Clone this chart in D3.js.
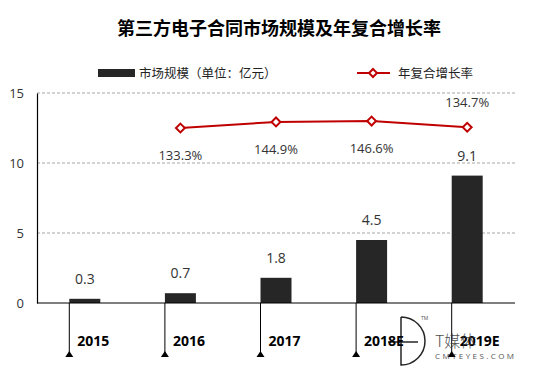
<!DOCTYPE html>
<html>
<head>
<meta charset="utf-8">
<script src="https://cdn.jsdelivr.net/npm/d3@7"></script>
<style>
  body { margin: 0; background: #fff; }
  text { font-family: "Open Sans", "Noto Sans CJK SC", sans-serif; }
</style>
</head>
<body>
<div id="chart"></div>
<script>
var years = ["2015", "2016", "2017", "2018E", "2019E"];
var marketSize = [0.3, 0.7, 1.8, 4.5, 9.1];
var growth = [null, 1.333, 1.449, 1.466, 1.347];
var growthLabels = ["", "133.3%", "144.9%", "146.6%", "134.7%"];
var growthLabelSide = ["", "below", "below", "below", "above"];
var yTicks = [0, 5, 10, 15];

var width = 535, height = 375;
var plotLeft = 37, plotRight = 515, plotTop = 93, plotBottom = 303;

var svg = d3.select("#chart").append("svg")
    .attr("width", width)
    .attr("height", height);

// Title
svg.append("text")
    .attr("x", 279).attr("y", 35)
    .attr("text-anchor", "middle")
    .style("font-family", "'Noto Sans CJK SC', sans-serif")
    .style("font-weight", "bold")
    .style("font-size", "18px")
    .attr("fill", "#000")
    .text("第三方电子合同市场规模及年复合增长率");

// Legend
svg.append("rect")
    .attr("x", 98).attr("y", 69).attr("width", 37).attr("height", 8)
    .attr("fill", "#262626");
svg.append("text")
    .attr("x", 139).attr("y", 78)
    .style("font-family", "'Noto Sans CJK SC', sans-serif")
    .style("font-size", "12.5px")
    .attr("fill", "#222")
    .text("市场规模（单位：亿元）");
svg.append("line")
    .attr("x1", 357).attr("x2", 390).attr("y1", 73).attr("y2", 73)
    .attr("stroke", "#c00000").attr("stroke-width", 2);
svg.append("path")
    .attr("d", d3.symbol().type(d3.symbolDiamond2).size(40)())
    .attr("transform", "translate(373,73)")
    .attr("fill", "#fff").attr("stroke", "#c00000").attr("stroke-width", 2);
svg.append("text")
    .attr("x", 398).attr("y", 78)
    .style("font-family", "'Noto Sans CJK SC', sans-serif")
    .style("font-size", "12.5px")
    .attr("fill", "#222")
    .text("年复合增长率");

// Scales
var x = d3.scaleBand().domain(years).range([plotLeft, plotRight]);
var y = d3.scaleLinear().domain([0, 15]).range([plotBottom, plotTop]);
var y2 = d3.scaleLinear().domain([-2, 2]).range([plotBottom, plotTop]);
var barW = 31;

// Gridlines
svg.append("g")
    .selectAll("line")
    .data(yTicks.filter(function (d) { return d > 0; }))
    .enter()
    .append("line")
    .attr("x1", plotLeft).attr("x2", plotRight)
    .attr("y1", function (d) { return y(d); })
    .attr("y2", function (d) { return y(d); })
    .attr("stroke", "#a6a6a6")
    .attr("stroke-dasharray", "3,2")
    .attr("stroke-width", 1);

// Y axis
var yAxis = svg.append("g")
    .attr("transform", "translate(" + plotLeft + ",0)")
    .call(d3.axisLeft(y).tickValues(yTicks).tickSize(0).tickPadding(13));
yAxis.select(".domain").attr("stroke", "#000").attr("stroke-width", 1.2);
yAxis.selectAll("text")
    .style("font-family", "'Open Sans', sans-serif")
    .style("font-size", "13px")
    .attr("fill", "#333");

// Bars
svg.append("g")
    .selectAll("rect")
    .data(marketSize)
    .enter()
    .append("rect")
    .attr("x", function (d, i) { return x(years[i]) + x.bandwidth() / 2 - barW / 2; })
    .attr("y", function (d) { return y(d); })
    .attr("width", barW)
    .attr("height", function (d) { return y(0) - y(d); })
    .attr("fill", "#262626");

// Bar labels
svg.append("g")
    .selectAll("text")
    .data(marketSize)
    .enter()
    .append("text")
    .attr("x", function (d, i) { return x(years[i]) + x.bandwidth() / 2; })
    .attr("y", function (d) { return y(d) - 15; })
    .attr("text-anchor", "middle")
    .style("font-size", "14px")
    .attr("fill", "#333")
    .text(function (d) { return d.toFixed(1); });

// X axis baseline
svg.append("line")
    .attr("x1", plotLeft).attr("x2", plotRight)
    .attr("y1", y(0)).attr("y2", y(0))
    .attr("stroke", "#000").attr("stroke-width", 1.2);

// Category pointers and labels
var cat = svg.append("g")
    .selectAll("g")
    .data(years)
    .enter()
    .append("g")
    .attr("transform", function (d) {
        return "translate(" + (x(d) + x.bandwidth() / 2 - barW / 2) + ",0)";
    });
cat.append("line")
    .attr("x1", 0).attr("x2", 0)
    .attr("y1", y(0)).attr("y2", 354)
    .attr("stroke", "#000").attr("stroke-width", 1);
cat.append("path")
    .attr("d", "M-4,357L0,351L4,357Z")
    .attr("fill", "#000");
cat.append("text")
    .attr("x", 8).attr("y", 346)
    .style("font-size", "14px")
    .style("font-weight", "bold")
    .attr("fill", "#000")
    .text(function (d) { return d; });

// Growth line
var pts = growth.map(function (d, i) { return {v: d, i: i}; })
    .filter(function (d) { return d.v !== null; });
var line = d3.line()
    .x(function (d) { return x(years[d.i]) + x.bandwidth() / 2; })
    .y(function (d) { return y2(d.v); });
svg.append("path")
    .datum(pts)
    .attr("d", line)
    .attr("fill", "none")
    .attr("stroke", "#c00000")
    .attr("stroke-width", 2);
svg.append("g")
    .selectAll("path")
    .data(pts)
    .enter()
    .append("path")
    .attr("d", d3.symbol().type(d3.symbolDiamond2).size(50)())
    .attr("transform", function (d) {
        return "translate(" + (x(years[d.i]) + x.bandwidth() / 2) + "," + y2(d.v) + ")";
    })
    .attr("fill", "#fff")
    .attr("stroke", "#c00000")
    .attr("stroke-width", 2);
svg.append("g")
    .selectAll("text")
    .data(pts)
    .enter()
    .append("text")
    .attr("x", function (d) { return x(years[d.i]) + x.bandwidth() / 2; })
    .attr("y", function (d) {
        return growthLabelSide[d.i] === "above" ? y2(d.v) - 20 : y2(d.v) + 32;
    })
    .attr("text-anchor", "middle")
    .style("font-size", "13px")
    .attr("fill", "#333")
    .text(function (d) { return growthLabels[d.i]; });

// Watermark
var wm = svg.append("g").attr("opacity", 0.85);
wm.append("path")
    .attr("d", "M401,317L401,365A24,24 0 0 0 401,317")
    .attr("fill", "none").attr("stroke", "#000").attr("stroke-width", 1.5);
wm.append("line")
    .attr("x1", 388).attr("x2", 418).attr("y1", 342).attr("y2", 342)
    .attr("stroke", "#000").attr("stroke-width", 1.5);
wm.append("text")
    .attr("x", 421).attr("y", 320)
    .style("font-size", "5px").attr("fill", "#333").text("TM");
wm.append("text")
    .attr("x", 435).attr("y", 347)
    .style("font-family", "'Noto Sans CJK SC', sans-serif")
    .style("font-size", "16px").style("font-weight", "300")
    .attr("fill", "#333").text("T媒体");
wm.append("text")
    .attr("x", 435).attr("y", 359)
    .style("font-size", "8px").style("letter-spacing", "2.4px")
    .attr("fill", "#333").text("CMTEYES.COM");
</script>
</body>
</html>
